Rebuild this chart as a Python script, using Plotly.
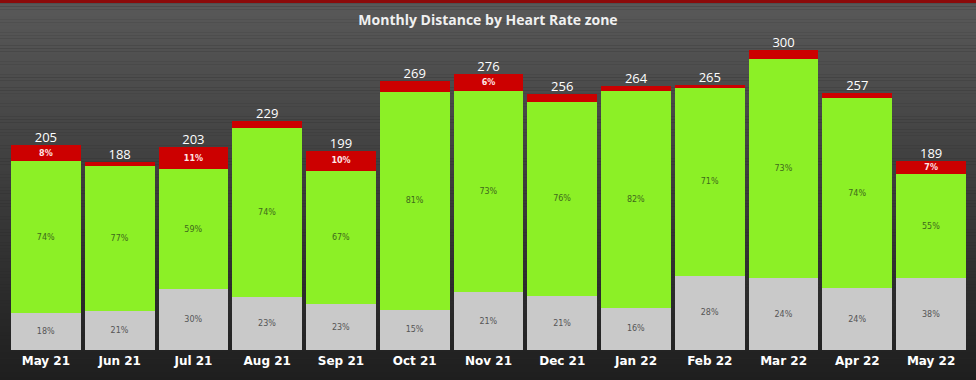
import plotly.graph_objects as go

months = ["May 21", "Jun 21", "Jul 21", "Aug 21", "Sep 21", "Oct 21", "Nov 21",
          "Dec 21", "Jan 22", "Feb 22", "Mar 22", "Apr 22", "May 22"]
totals = [205, 188, 203, 229, 199, 269, 276, 256, 264, 265, 300, 257, 189]
pct_low = [18, 21, 30, 23, 23, 15, 21, 21, 16, 28, 24, 24, 38]
pct_mid = [74, 77, 59, 74, 67, 81, 73, 76, 82, 71, 73, 74, 55]
pct_high = [8, 2, 11, 3, 10, 4, 6, 3, 2, 1, 3, 2, 7]

low = [t * p / 100 for t, p in zip(totals, pct_low)]
mid = [t * p / 100 for t, p in zip(totals, pct_mid)]
high = [t * p / 100 for t, p in zip(totals, pct_high)]

fig = go.Figure()

# gradient background via stacked paper shapes
n = 120
top_c = (90, 90, 90)
bot_c = (30, 30, 30)
y_top, y_bot = 1.15, -0.1
for i in range(n):
    f = i / (n - 1)
    c = tuple(int(round(top_c[k] + (bot_c[k] - top_c[k]) * f)) for k in range(3))
    fig.add_shape(type="rect", xref="paper", yref="paper",
                  x0=-0.05, x1=1.05,
                  y0=y_top - (i + 1.05) * (y_top - y_bot) / n,
                  y1=y_top - i * (y_top - y_bot) / n,
                  fillcolor="rgb(%d,%d,%d)" % c, line_width=0, layer="below")

txt_font = dict(family="DejaVu Sans", size=8)

fig.add_trace(go.Bar(
    x=months, y=low, name="Zone low",
    marker=dict(color="#c9c9c9", line=dict(width=0)),
    text=[f"{p}%" for p in pct_low], textposition="inside", insidetextanchor="middle",
    textfont=dict(txt_font, color="#555555"), constraintext="none",
    hoverinfo="skip"))
fig.add_trace(go.Bar(
    x=months, y=mid, name="Zone mid",
    marker=dict(color="#8cf026", line=dict(width=0)),
    text=[f"{p}%" for p in pct_mid], textposition="inside", insidetextanchor="middle",
    textfont=dict(txt_font, color="#3f6a1c"), constraintext="none",
    hoverinfo="skip"))
fig.add_trace(go.Bar(
    x=months, y=high, name="Zone high",
    marker=dict(color="#cc0000", line=dict(width=0)),
    text=[f"{p}%" if p >= 5 else "" for p in pct_high], textposition="inside",
    insidetextanchor="middle",
    textfont=dict(family="DejaVu Sans", size=8, color="#ffe6e6", weight="bold"),
    constraintext="none", hoverinfo="skip"))
fig.add_trace(go.Scatter(
    x=months, y=totals, mode="text", text=[str(t) for t in totals],
    textposition="top center",
    textfont=dict(family="Open Sans", size=13, color="#ffffff"),
    hoverinfo="skip", showlegend=False, cliponaxis=False))

fig.update_layout(
    width=976, height=380,
    margin=dict(l=9, r=8, t=40, b=30),
    barmode="stack", bargap=0.055,
    showlegend=False,
    paper_bgcolor="#2a2a2a", plot_bgcolor="rgba(0,0,0,0)",
    title=dict(text="<b>Monthly Distance by Heart Rate zone</b>", x=0.5, xanchor="center",
               y=0.947, yanchor="middle",
               font=dict(family="Open Sans", size=14, color="#f0f0f0")),
    xaxis=dict(showgrid=False, zeroline=False, showline=False, ticks="",
               range=[-0.5, 12.5], autorange=False,
               tickfont=dict(family="DejaVu Sans", size=12, color="#ffffff", weight="bold"),
               ticklabelstandoff=2),
    yaxis=dict(range=[0, 310], visible=False, showgrid=False, zeroline=False),
)

fig.add_shape(type="rect", xref="paper", yref="paper", x0=-0.05, x1=1.05,
              y0=1.15, y1=1.119, fillcolor="#8b0a0a", line_width=0, layer="above")

fig.write_html("out.html", config={"displayModeBar": False},
               post_script="document.body.style.margin='0';document.body.style.overflow='hidden';")
